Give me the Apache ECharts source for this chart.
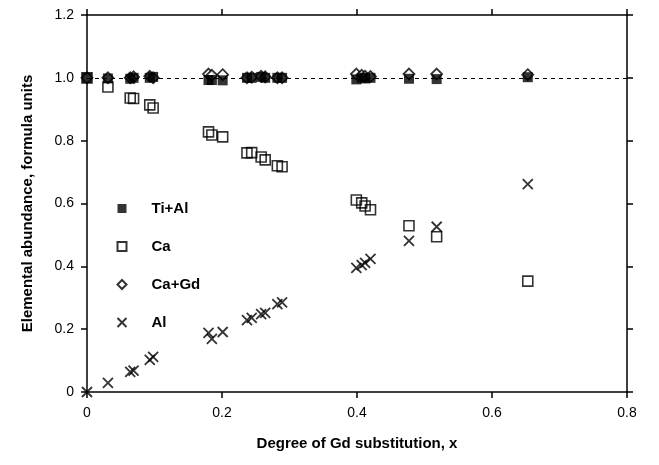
<!DOCTYPE html>
<html>
<head>
<meta charset="utf-8">
<script src="https://cdn.jsdelivr.net/npm/echarts@6/dist/echarts.min.js"></script>
<style>
  html, body { margin: 0; padding: 0; background: #fff; }
  #chart { width: 659px; height: 465px; }
</style>
</head>
<body>
<div id="chart"></div>
<script>
// degree of Gd substitution for each sample
var gdX = [0, 0.031, 0.064, 0.069, 0.093, 0.098, 0.180, 0.185, 0.201, 0.237, 0.244, 0.258, 0.264, 0.282, 0.289, 0.399, 0.407, 0.412, 0.420, 0.477, 0.518, 0.653];
var tiAl = [1.0, 0.998, 0.997, 1.0, 1.0, 1.003, 0.993, 0.993, 0.992, 1.0, 1.0, 1.003, 1.0, 1.0, 1.0, 0.995, 1.0, 0.998, 1.0, 0.997, 0.996, 1.002];
var caGd = [1.0, 1.0, 1.0, 1.003, 1.005, 1.0, 1.012, 1.008, 1.010, 1.0, 1.002, 1.005, 1.003, 1.0, 1.0, 1.012, 1.008, 1.005, 1.004, 1.012, 1.012, 1.010];
var ca = [1.0, 0.971, 0.936, 0.934, 0.914, 0.904, 0.828, 0.818, 0.812, 0.761, 0.762, 0.748, 0.739, 0.720, 0.717, 0.611, 0.602, 0.592, 0.580, 0.529, 0.494, 0.353];
var al = [0, 0.029, 0.064, 0.068, 0.102, 0.112, 0.188, 0.169, 0.191, 0.229, 0.236, 0.248, 0.252, 0.280, 0.285, 0.395, 0.404, 0.411, 0.424, 0.481, 0.526, 0.662];

var FONT = '"Liberation Sans", Arial, Helvetica, sans-serif';
var CROSS = 'path://M0,0L10,10M10,0L0,10';

function pairs(ys) {
  return gdX.map(function (x, i) { return [x, ys[i]]; });
}
function tickFmt(v) {
  return v === 0 ? '0' : v.toFixed(1);
}

var axisBase = {
  axisLine: { show: true, onZero: false, lineStyle: { color: '#000', width: 1.5 } },
  axisTick: { show: true, inside: false, length: 6, lineStyle: { color: '#000', width: 1.5 } },
  splitLine: { show: false }
};

var chart = echarts.init(document.getElementById('chart'), null, { renderer: 'canvas' });
chart.setOption({
  backgroundColor: '#fff',
  animation: false,
  textStyle: { fontFamily: FONT, color: '#000' },
  grid: { left: 87, right: 32, top: 15, bottom: 73 },
  legend: {
    orient: 'vertical',
    left: 110,
    top: 196,
    itemGap: 23,
    itemWidth: 9,
    itemHeight: 9,
    data: [
      { name: 'Ti+Al' },
      { name: 'Ca' },
      { name: 'Ca+Gd' },
      { name: 'Al' }
    ],
    textStyle: { fontFamily: FONT, fontSize: 15, fontWeight: 'bold', color: '#000', padding: [0, 0, 0, 20] }
  },
  xAxis: [
    Object.assign({
      type: 'value', min: 0, max: 0.8, interval: 0.2, position: 'bottom',
      name: 'Degree of Gd substitution, x', nameLocation: 'middle', nameGap: 44,
      nameTextStyle: { fontFamily: FONT, fontSize: 15, fontWeight: 'bold', color: '#000' },
      axisLabel: { color: '#000', fontSize: 14, fontFamily: FONT, margin: 14, formatter: tickFmt }
    }, axisBase),
    Object.assign({
      type: 'value', min: 0, max: 0.8, interval: 0.2, position: 'top',
      axisLabel: { show: false }
    }, axisBase)
  ],
  yAxis: [
    Object.assign({
      type: 'value', min: 0, max: 1.2, interval: 0.2, position: 'left',
      name: 'Elemental abundance, formula units', nameLocation: 'middle', nameGap: 52,
      nameTextStyle: { fontFamily: FONT, fontSize: 15, fontWeight: 'bold', color: '#000' },
      axisLabel: { color: '#000', fontSize: 14, fontFamily: FONT, margin: 13, formatter: tickFmt }
    }, axisBase),
    Object.assign({
      type: 'value', min: 0, max: 1.2, interval: 0.2, position: 'right',
      axisLabel: { show: false }
    }, axisBase)
  ],
  series: [
    {
      name: 'Ca+Gd', type: 'scatter', data: pairs(caGd),
      symbol: 'diamond', symbolSize: 11,
      itemStyle: { color: '#fff', borderColor: '#000', borderWidth: 1.8 },
      markLine: {
        silent: true, symbol: 'none', label: { show: false },
        lineStyle: { color: '#000', width: 1, type: [4, 4] },
        data: [{ yAxis: 1.0 }]
      },
      z: 2
    },
    {
      name: 'Ti+Al', type: 'scatter', data: pairs(tiAl),
      symbol: 'rect', symbolSize: 10,
      itemStyle: { color: '#000', borderColor: '#000', borderWidth: 0 },
      z: 3
    },
    {
      name: 'Ca', type: 'scatter', data: pairs(ca),
      symbol: 'rect', symbolSize: 10,
      itemStyle: { color: 'rgba(255,255,255,0)', borderColor: '#000', borderWidth: 1.6 },
      z: 4
    },
    {
      name: 'Al', type: 'scatter', data: pairs(al),
      symbol: CROSS, symbolSize: 10,
      itemStyle: { color: 'none', borderColor: '#000', borderWidth: 1.8 },
      z: 5
    }
  ]
});
</script>
</body>
</html>
